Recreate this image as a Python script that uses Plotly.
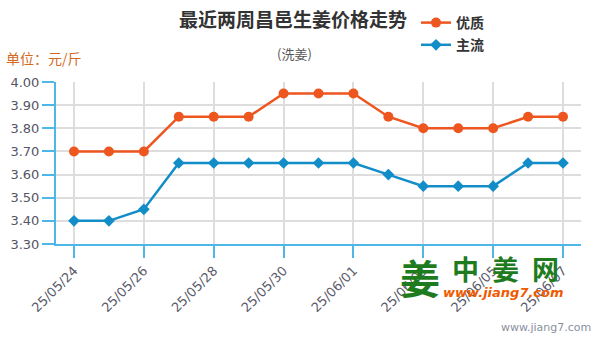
import plotly.graph_objects as go

# Ginger price series (yuan per jin), washed ginger, Changyi
dates = ["25/05/24", "25/05/25", "25/05/26", "25/05/27", "25/05/28",
         "25/05/29", "25/05/30", "25/05/31", "25/06/01", "25/06/02",
         "25/06/03", "25/06/04", "25/06/05", "25/06/06", "25/06/07"]
premium = [3.70, 3.70, 3.70, 3.85, 3.85, 3.85, 3.95, 3.95, 3.95, 3.85,
           3.80, 3.80, 3.80, 3.85, 3.85]
mainstream = [3.40, 3.40, 3.45, 3.65, 3.65, 3.65, 3.65, 3.65, 3.65, 3.60,
              3.55, 3.55, 3.55, 3.65, 3.65]
y_ticks = [3.30, 3.40, 3.50, 3.60, 3.70, 3.80, 3.90, 4.00]
x_ticks = dates[::2]

W, H = 601, 340
L, R, T, B = 56, 20, 82, 96
CJK = "Noto Sans CJK SC"
LATIN = "DejaVu Sans"
ORANGE = "#ee5620"
BLUE = "#138dc8"
AXIS = "#4db8e8"
GRID = "#dddddd"


def px(x, y):
    """Pixel position on the page -> paper coordinates."""
    return (x - L) / (W - L - R), (H - B - y) / (H - T - B)


fig = go.Figure()
fig.add_trace(go.Scatter(
    x=dates, y=premium, name="优质", legendgroup="a",
    mode="lines+markers",
    line=dict(color=ORANGE, width=2.5),
    marker=dict(symbol="circle", size=10, color=ORANGE),
))
fig.add_trace(go.Scatter(
    x=dates, y=mainstream, name="主流", legendgroup="b",
    mode="lines+markers",
    line=dict(color=BLUE, width=2.5),
    marker=dict(symbol="diamond", size=9, color=BLUE),
))

annotations = []
# subtitle and unit label
x0, y0 = px(294, 53)
annotations.append(dict(text="(洗姜)", x=x0, y=y0, xref="paper", yref="paper",
                        xanchor="center", yanchor="middle", showarrow=False,
                        font=dict(family=CJK, size=13, color="#555555")))
x0, y0 = px(4, 58)
annotations.append(dict(text="单位：元/斤", x=x0, y=y0, xref="paper", yref="paper",
                        xanchor="left", yanchor="middle", showarrow=False,
                        font=dict(family=CJK, size=14, color="#d2691e")))
# site logo
x0, y0 = px(420, 277)
annotations.append(dict(text="姜", x=x0, y=y0, xref="paper", yref="paper",
                        xanchor="center", yanchor="middle", showarrow=False,
                        font=dict(family=CJK, size=40, color="#1e7b1e", weight="bold")))
for ch, cx in zip("中姜网", [465, 505, 545]):
    x0, y0 = px(cx, 268)
    annotations.append(dict(text=ch, x=x0, y=y0, xref="paper", yref="paper",
                            xanchor="center", yanchor="middle", showarrow=False,
                            font=dict(family=CJK, size=27, color="#1e7b1e", weight="bold")))
x0, y0 = px(503, 292)
annotations.append(dict(text="<i>www.jiang7.com</i>", x=x0, y=y0, xref="paper", yref="paper",
                        xanchor="center", yanchor="middle", showarrow=False,
                        font=dict(family=LATIN, size=13, color="#f05a00", weight="bold")))
x0, y0 = px(593, 327)
annotations.append(dict(text="www.jiang7.com", x=x0, y=y0, xref="paper", yref="paper",
                        xanchor="right", yanchor="middle", showarrow=False,
                        font=dict(family=LATIN, size=11, color="#8a8fa0")))

fig.update_layout(
    width=W, height=H,
    margin=dict(l=L, r=R, t=T, b=B, autoexpand=False),
    paper_bgcolor="white", plot_bgcolor="white",
    title=dict(text="最近两周昌邑生姜价格走势", x=293 / W, xanchor="center",
               y=1 - 20 / H, yanchor="middle",
               font=dict(family=CJK, size=19, color="#333333", weight="bold")),
    legend=dict(xref="container", yref="container", x=416 / W, y=1 - 7 / H,
                xanchor="left", yanchor="top", tracegroupgap=1,
                bgcolor="rgba(0,0,0,0)",
                font=dict(family=CJK, size=14, color="#333333", weight="bold")),
    annotations=annotations,
    showlegend=True,
)
fig.update_xaxes(
    type="category", range=[-0.515, len(dates) - 1 + 0.515],
    tickmode="array", tickvals=x_ticks, ticktext=x_ticks,
    tickangle=-45, ticks="outside", ticklen=12, tickwidth=2, tickcolor=AXIS,
    showline=True, linecolor=AXIS, linewidth=2,
    showgrid=True, gridcolor=GRID, gridwidth=2,
    tickfont=dict(family=LATIN, size=13, color="#5a5a6a"),
    zeroline=False,
)
fig.update_yaxes(
    range=[y_ticks[0], y_ticks[-1]],
    tickmode="array", tickvals=y_ticks, ticktext=[f"{v:.2f}" for v in y_ticks],
    ticks="outside", ticklen=12, tickwidth=2, tickcolor=AXIS,
    showline=True, linecolor=AXIS, linewidth=2,
    showgrid=True, gridcolor=GRID, gridwidth=2,
    tickfont=dict(family=LATIN, size=13, color="#555566"),
    zeroline=False,
)

fig.write_html("out.html")
